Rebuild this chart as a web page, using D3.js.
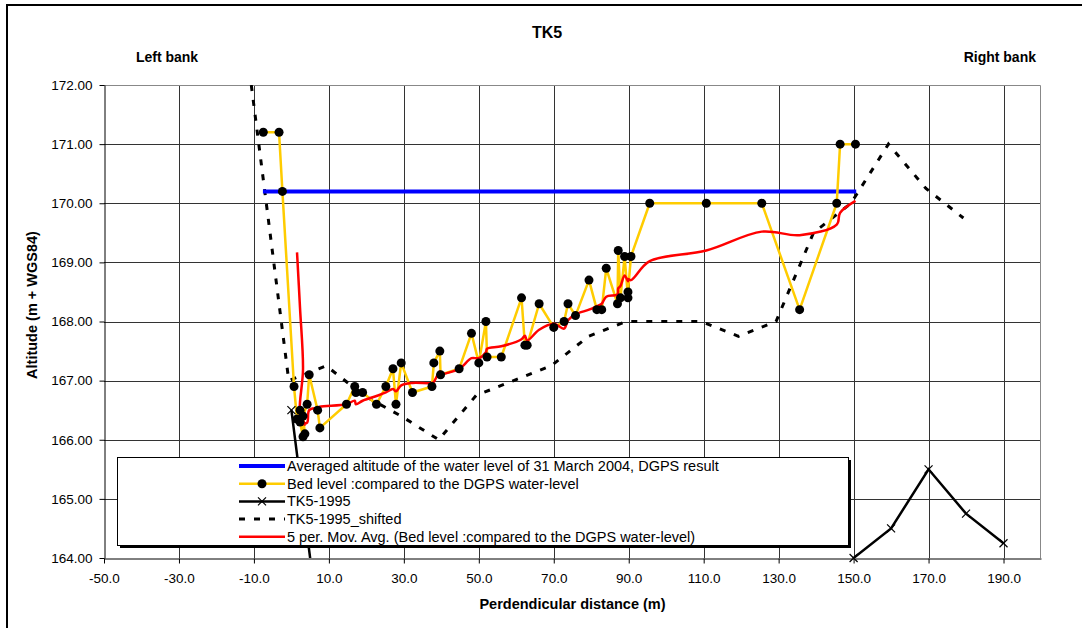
<!doctype html>
<html lang="en">
<head>
    <meta charset="utf-8">
    <script src="https://d3js.org/d3.v7.min.js"></script>
    <style>
        body { margin:0; background:#fff; }
        text { font-family: Arial, "Liberation Sans", sans-serif; fill:#000; }
    </style>
    <title>TK5</title>
</head>
<body>
<script>

    // bed level points (m, m + WGS84), in survey order
    var bedX = [-7.5, -3.3, -2.4, 0.7, 1.5, 2.3, 3.1, 2.3, 3.6, 3.1, 4.2, 4.75, 7.0, 7.6,
        14.7, 16.9, 17.2, 19.0, 22.7, 25.2, 27.1, 27.9, 29.3, 32.3, 37.5, 38.0, 39.6, 39.8,
        44.75, 48.05, 50.0, 51.9, 52.2, 56.0, 61.4, 62.3, 62.9, 66.1, 70.0, 72.75, 73.8, 75.8,
        79.4, 81.5, 82.8, 84.0, 87.0, 87.2, 87.8, 88.9, 89.8, 89.8, 90.6,
        95.6, 110.7, 125.5, 135.6, 145.5, 146.4, 150.5];
    var bedY = [171.2, 171.2, 170.2, 166.9, 166.35, 166.5, 166.05, 166.3, 166.1, 166.4, 166.6, 167.1, 166.5, 166.2,
        166.6, 166.9, 166.8, 166.8, 166.6, 166.9, 167.2, 166.6, 167.3, 166.8, 166.9, 167.3, 167.5, 167.1,
        167.2, 167.8, 167.3, 168.0, 167.4, 167.4, 168.4, 167.6, 167.6, 168.3, 167.9, 168.0, 168.3, 168.1,
        168.7, 168.2, 168.2, 168.9, 168.3, 169.2, 168.4, 169.1, 168.4, 168.5, 169.1,
        170.0, 170.0, 170.0, 168.2, 170.0, 171.0, 171.0];

    // water level 31 March 2004 (DGPS)
    var waterX = [-7.6, 150.7];
    var waterY = [170.2, 170.2];

    // TK5-1995 profile
    var tk1995X = [0, 10, 20, 30, 40, 50, 60, 70, 80, 90, 100, 110, 120, 130, 140, 150, 160, 170, 180, 190];
    var tk1995Y = [166.5, 161.5, 161.75, 161.25, 160.9, 160.5, 161.25, 161.5, 161.75, 162.25,
        162.5, 162.5, 162.5, 162.25, 162.5, 164.0, 164.5, 165.5, 164.75, 164.25];

    // TK5-1995 shifted
    var shiftX = [-10.7, -0.7, 9.3, 19.3, 29.3, 39.3, 49.3, 59.3, 69.3, 79.3, 89.3, 99.3, 109.3,
        119.3, 129.3, 139.3, 149.3, 159.3, 169.3, 179.3];
    var shiftY = [172.0, 167.0, 167.25, 166.75, 166.4, 166.0, 166.75, 167.0, 167.25, 167.75, 168.0,
        168.0, 168.0, 167.75, 168.0, 169.5, 170.0, 171.0, 170.25, 169.75];

    var xTicks = [-50, -30, -10, 10, 30, 50, 70, 90, 110, 130, 150, 170, 190];
    var yTicks = [164, 165, 166, 167, 168, 169, 170, 171, 172];

    var legendLabels = [
        "Averaged altitude of the water level of 31 March 2004, DGPS result",
        "Bed level :compared to the DGPS water-level",
        "TK5-1995",
        "TK5-1995_shifted",
        "5 per. Mov. Avg. (Bed level :compared to the DGPS water-level)"
    ];

    // 5 period moving average of the bed level (excel trendline)
    var maX = [], maY = [];
    for (var i = 4; i < bedY.length; i++) {
        maX.push(bedX[i]);
        maY.push(d3.mean(bedY.slice(i - 4, i + 1)));
    }

    function pairs(xs, ys) { return xs.map(function(v, i) { return [v, ys[i]]; }); }

    // set the dimensions and margins of the graph
    var margin = {top: 85, right: 41, bottom: 70, left: 104},
        width = 1082 - margin.left - margin.right,
        height = 628 - margin.top - margin.bottom;

    var x = d3.scaleLinear().domain([-50, 200]).range([0, width]);
    var y = d3.scaleLinear().domain([164, 172]).range([height, 0]);

    var root = d3.select("body").append("svg")
        .attr("width", 1082)
        .attr("height", 628);

    // chart frame
    root.append("rect")
        .attr("x", 7).attr("y", 5)
        .attr("width", 1090).attr("height", 640)
        .attr("fill", "none").attr("stroke", "#000").attr("stroke-width", 2);

    root.append("text")
        .attr("x", 547).attr("y", 38)
        .attr("text-anchor", "middle")
        .style("font-size", "16px").style("font-weight", "bold")
        .text("TK5");
    root.append("text")
        .attr("x", 167).attr("y", 62)
        .attr("text-anchor", "middle")
        .style("font-size", "14px").style("font-weight", "bold")
        .text("Left bank");
    root.append("text")
        .attr("x", 1036).attr("y", 62)
        .attr("text-anchor", "end")
        .style("font-size", "14px").style("font-weight", "bold")
        .text("Right bank");

    var svg = root.append("g")
        .attr("transform", "translate(" + margin.left + "," + margin.top + ")");

    svg.append("clipPath").attr("id", "plot")
        .append("rect").attr("width", width).attr("height", height);

    // gridlines
    svg.selectAll(".vgrid")
        .data(xTicks.slice(1))
        .enter().append("line")
        .attr("x1", function(d) { return Math.round(x(d)) + 0.5; })
        .attr("x2", function(d) { return Math.round(x(d)) + 0.5; })
        .attr("y1", 0).attr("y2", height)
        .attr("stroke", "#333");
    svg.selectAll(".hgrid")
        .data(yTicks.slice(1, -1))
        .enter().append("line")
        .attr("y1", function(d) { return Math.round(y(d)) + 0.5; })
        .attr("y2", function(d) { return Math.round(y(d)) + 0.5; })
        .attr("x1", 0).attr("x2", width)
        .attr("stroke", "#333");
    // plot area border (top, right)
    svg.append("path")
        .attr("d", "M0,0.5H" + (width - 0.5) + "V" + height)
        .attr("fill", "none").attr("stroke", "#888");

    // axes
    var gx = svg.append("g")
        .attr("transform", "translate(0," + (Math.round(height) + 0.5) + ")")
        .call(d3.axisBottom(x).tickValues(xTicks).tickSize(5).tickSizeOuter(0).tickPadding(10)
            .tickFormat(function(d) { return d.toFixed(1); }));
    var gy = svg.append("g")
        .attr("transform", "translate(0.5,0)")
        .call(d3.axisLeft(y).tickValues(yTicks).tickSize(5).tickSizeOuter(0).tickPadding(7)
            .tickFormat(function(d) { return d.toFixed(2); }));
    [gx, gy].forEach(function(g) {
        g.selectAll("text").style("font-size", "13.5px").attr("fill", "#000");
        g.selectAll("line, path").attr("stroke", "#000");
    });

    svg.append("text")
        .attr("x", x(75)).attr("y", 524)
        .attr("text-anchor", "middle")
        .style("font-size", "14.5px").style("font-weight", "bold")
        .text("Perdendicular distance (m)");
    svg.append("text")
        .attr("transform", "translate(-67," + 220 + ") rotate(-90)")
        .attr("text-anchor", "middle")
        .style("font-size", "14.5px").style("font-weight", "bold")
        .text("Altitude (m + WGS84)");

    var line = d3.line()
        .x(function(d) { return x(d[0]); })
        .y(function(d) { return y(d[1]); });

    var plot = svg.append("g").attr("clip-path", "url(#plot)");

    plot.append("path").datum(pairs(shiftX, shiftY))
        .attr("d", line).attr("fill", "none")
        .attr("stroke", "#000").attr("stroke-width", 3).attr("stroke-dasharray", "6,9");
    plot.append("path").datum(pairs(tk1995X, tk1995Y))
        .attr("d", line).attr("fill", "none")
        .attr("stroke", "#000").attr("stroke-width", 2.5);
    plot.append("path").datum(pairs(waterX, waterY))
        .attr("d", line).attr("fill", "none")
        .attr("stroke", "#0000ff").attr("stroke-width", 4);
    plot.append("path").datum(pairs(bedX, bedY))
        .attr("d", line).attr("fill", "none")
        .attr("stroke", "#ffcc00").attr("stroke-width", 2.5).attr("stroke-linejoin", "round");
    plot.append("path").datum(pairs(maX, maY))
        .attr("d", line.curve(d3.curveCatmullRom.alpha(0.5))).attr("fill", "none")
        .attr("stroke", "#ff0000").attr("stroke-width", 2.5).attr("stroke-linejoin", "round");
    line.curve(d3.curveLinear);

    svg.selectAll(".dot")
        .data(pairs(bedX, bedY))
        .enter().append("circle")
        .attr("cx", function(d) { return x(d[0]); })
        .attr("cy", function(d) { return y(d[1]); })
        .attr("r", 4.5).attr("fill", "#000");

    // x markers of TK5-1995 that fall inside the plot
    var cross = "M-4,-4L4,4M-4,4L4,-4";
    svg.selectAll(".cross")
        .data(pairs(tk1995X, tk1995Y).filter(function(d) { return d[1] >= 164; }))
        .enter().append("path")
        .attr("transform", function(d) { return "translate(" + x(d[0]) + "," + y(d[1]) + ")"; })
        .attr("d", cross).attr("stroke", "#000").attr("stroke-width", 1.2);

    // legend
    var lx = 117, ly = 457, lw = 731, lh = 88;
    root.append("rect")
        .attr("x", lx + 3).attr("y", ly + 3).attr("width", lw).attr("height", lh)
        .attr("fill", "#000");
    root.append("rect")
        .attr("x", lx + 0.5).attr("y", ly + 0.5).attr("width", lw).attr("height", lh)
        .attr("fill", "#fff").attr("stroke", "#000");

    var styles = [
        {color: "#0000ff", w: 4},
        {color: "#ffcc00", w: 2.5, dot: true},
        {color: "#000", w: 2.5, cross: true},
        {color: "#000", w: 3, dash: "6,9"},
        {color: "#ff0000", w: 2.5}
    ];
    var legend = root.selectAll(".legend")
        .data(legendLabels)
        .enter().append("g")
        .attr("transform", function(d, i) { return "translate(0," + (466 + i * 17.7) + ")"; });
    legend.append("line")
        .attr("x1", 239).attr("x2", 285)
        .attr("stroke", function(d, i) { return styles[i].color; })
        .attr("stroke-width", function(d, i) { return styles[i].w; })
        .attr("stroke-dasharray", function(d, i) { return styles[i].dash || null; });
    legend.filter(function(d, i) { return styles[i].dot; })
        .append("circle").attr("cx", 262).attr("r", 4.5).attr("fill", "#000");
    legend.filter(function(d, i) { return styles[i].cross; })
        .append("path").attr("transform", "translate(262,0)")
        .attr("d", cross).attr("stroke", "#000").attr("stroke-width", 1.2);
    legend.append("text")
        .attr("x", 287).attr("dy", "0.35em")
        .style("font-size", "14.5px")
        .text(function(d) { return d; });

</script>
</body>
</html>
